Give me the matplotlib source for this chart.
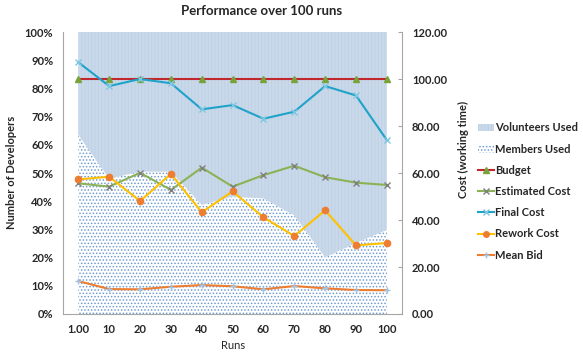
import matplotlib.pyplot as plt
from matplotlib.lines import Line2D
from matplotlib.patches import Patch
import numpy as np

plt.rcParams["font.family"] = ["Lato", "DejaVu Sans"]
plt.rcParams["font.weight"] = "bold"
plt.rcParams["hatch.linewidth"] = 0.7

runs = ["1.00", "10", "20", "30", "40", "50", "60", "70", "80", "90", "100"]

# left axis, percent of developers
members_used = [63.5, 48.0, 50.5, 50.5, 38.7, 41.6, 41.0, 35.0, 20.1, 25.2, 29.8]
volunteers_used = [100.0 - m for m in members_used]

# right axis, cost (working time)
budget = [100.0] * 11
estimated_cost = [55.6, 54.2, 60.1, 52.8, 62.3, 54.2, 59.1, 63.1, 58.2, 55.9, 54.9]
final_cost = [107.1, 97.0, 100.0, 98.2, 87.1, 88.9, 83.1, 86.1, 97.0, 93.0, 74.0]
rework_cost = [57.3, 58.4, 48.1, 59.6, 43.3, 52.2, 41.1, 33.2, 44.1, 29.2, 30.2]
mean_bid = [14.0, 10.6, 10.5, 11.6, 12.3, 11.8, 10.5, 11.9, 10.9, 10.2, 10.1]

text_color = "#262626"
axis_color = "#a6a6a6"

x = np.arange(len(runs))

fig = plt.figure(figsize=(5.83, 3.56), dpi=100)
ax = fig.add_axes([0.108, 0.118, 0.582, 0.792])
ax2 = ax.twinx()

# stacked areas
members = np.array(members_used)
vols = np.array(volunteers_used)
ax.fill_between(
    x, 0, members, facecolor="white", edgecolor="#6f9bd1", hatch=".....", lw=0, zorder=1
)
ax.fill_between(
    x,
    members,
    members + vols,
    facecolor="#c9d9ea",
    edgecolor="#bfd1e6",
    hatch="|||||",
    lw=0,
    zorder=1,
)

ax.set_xlim(-0.5, 10.5)
ax.set_ylim(0, 100)
ax.set_yticks(np.arange(0, 101, 10))
ax.set_yticklabels(["{0}%".format(v) for v in range(0, 101, 10)])
ax.set_xticks(x)
ax.set_xticklabels(runs)

# lines on the cost axis
lw = 1.5
ax2.plot(x, budget, color="#c0282d", lw=lw, marker="^", ms=4.5,
         mfc="#77a33a", mec="#77a33a", zorder=4)
ax2.plot(x, estimated_cost, color="#8bb356", lw=lw, marker="x", ms=4.5,
         mfc="#7f7f7f", mec="#7f7f7f", mew=1, zorder=4)
ax2.plot(x, final_cost, color="#1fa3c9", lw=lw, marker="x", ms=4.5,
         mfc="#7fc7e0", mec="#7fc7e0", mew=1, zorder=4)
ax2.plot(x, rework_cost, color="#ffc000", lw=lw, marker="o", ms=4.5,
         mfc="#ed7d31", mec="#ed7d31", zorder=4)
ax2.plot(x, mean_bid, color="#ed7d31", lw=lw, marker="+", ms=4.5,
         mfc="#9dc3e6", mec="#9dc3e6", mew=1, zorder=4)

ax2.set_ylim(0, 120)
ax2.set_yticks(np.arange(0, 121, 20))
ax2.set_yticklabels(["{0:.2f}".format(v) for v in range(0, 121, 20)])

for a in (ax, ax2):
    a.spines["top"].set_visible(False)
    a.spines["left"].set_color(axis_color)
    a.spines["right"].set_color(axis_color)
    a.spines["bottom"].set_color(axis_color)

ax.spines["right"].set_visible(False)
ax2.spines["left"].set_visible(False)
ax2.spines["bottom"].set_visible(False)

ax.tick_params(axis="y", length=0, labelsize=8, labelcolor=text_color, pad=7)
ax.tick_params(axis="x", length=0, labelsize=8, labelcolor=text_color, pad=7)
ax2.tick_params(axis="y", direction="in", length=3, color=axis_color,
                labelsize=8, labelcolor=text_color, pad=7)

ax.set_xlabel("Runs", fontsize=8, color=text_color, labelpad=4)
fig.text(0.02, 0.515, "Number of Developers", rotation=90, fontsize=8,
         color=text_color, ha="center", va="center", fontweight="bold")
fig.text(0.795, 0.58, "Cost (working time)", rotation=90, fontsize=8,
         color=text_color, ha="center", va="center", fontweight="bold")
fig.text(0.449, 0.968, "Performance over 100 runs", fontsize=9.5,
         color=text_color, ha="center", va="center", fontweight="bold")

handles = [
    Patch(facecolor="#c9d9ea", edgecolor="#bfd1e6", hatch="|||||", lw=0),
    Patch(facecolor="white", edgecolor="#6f9bd1", hatch=".....", lw=0),
    Line2D([], [], color="#c0282d", lw=lw, marker="^", ms=4,
           mfc="#77a33a", mec="#77a33a"),
    Line2D([], [], color="#8bb356", lw=lw, marker="x", ms=4,
           mec="#7f7f7f", mew=1),
    Line2D([], [], color="#1fa3c9", lw=lw, marker="x", ms=4,
           mec="#7fc7e0", mew=1),
    Line2D([], [], color="#ffc000", lw=lw, marker="o", ms=4,
           mfc="#ed7d31", mec="#ed7d31"),
    Line2D([], [], color="#ed7d31", lw=lw, marker="+", ms=4,
           mec="#9dc3e6", mew=1),
]
labels = ["Volunteers Used", "Members Used", "Budget", "Estimated Cost",
          "Final Cost", "Rework Cost", "Mean Bid"]
fig.legend(handles, labels, loc="center left", bbox_to_anchor=(0.803, 0.462),
           frameon=False, fontsize=8, handlelength=1.4, handletextpad=0.1,
           labelspacing=0.92, labelcolor=text_color)

fig.savefig("out.png", dpi=100)
